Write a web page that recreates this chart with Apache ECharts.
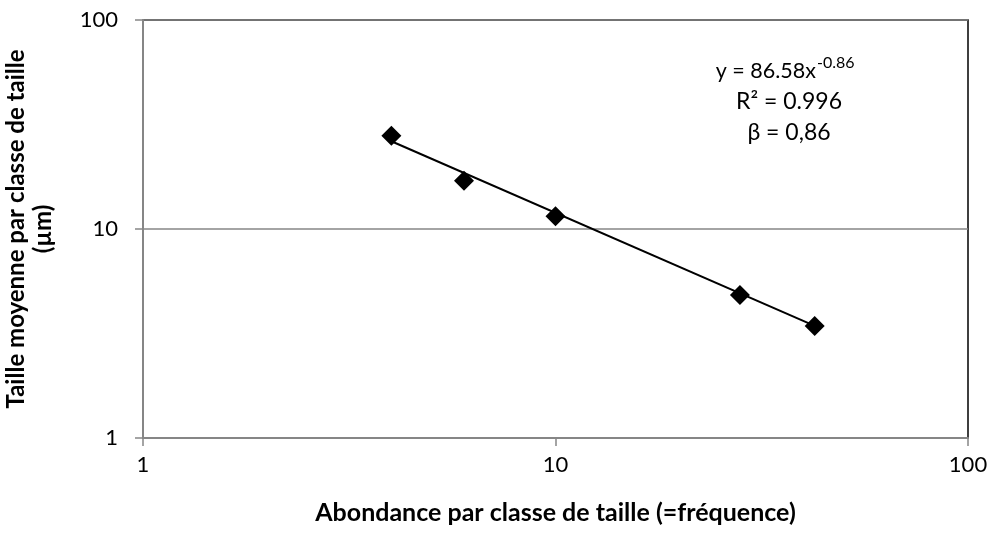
<!DOCTYPE html>
<html><head><meta charset="utf-8">
<script src="https://cdn.jsdelivr.net/npm/echarts@6/dist/echarts.min.js"></script>
<style>html,body{margin:0;padding:0;background:#fff}#c{width:991px;height:539px}</style>
</head><body><div id="c"></div>
<script>
const abondance = [4, 6, 10, 28, 42.5];
const taille = [27.9, 17, 11.5, 4.83, 3.43];
const trendX = [4, 42.5];
const trendY = [26.3, 3.44];
const xTicks = [1, 10, 100];
const yTicks = [1, 10, 100];
const equationLines = ['y = 86.58x', 'R² = 0.996', 'β = 0,86'];
const exponentText = '-0.86';

const font = 'Lato';
const chart = echarts.init(document.getElementById('c'));
chart.setOption({
  animation: false,
  grid: {left: 143, top: 20, width: 825, height: 418, show: true, borderColor: '#000', borderWidth: 1.5, backgroundColor: '#fff',
         containLabel: false, outerBoundsMode: 'none'},
  xAxis: {
    type: 'log', logBase: 10, min: xTicks[0], max: xTicks[xTicks.length-1],
    name: 'Abondance par classe de taille (=fréquence)', nameLocation: 'middle', nameGap: 62,
    nameTextStyle: {fontFamily: font, fontSize: 25, fontWeight: 'bold', color: '#000'},
    axisLine: {lineStyle: {color: '#868686', width: 2}},
    axisTick: {show: true, inside: false, length: 8, lineStyle: {color: '#868686', width: 1.5}},
    axisLabel: {fontFamily: font, fontSize: 22, color: '#000', margin: 16},
    splitLine: {show: false}
  },
  yAxis: {
    type: 'log', logBase: 10, min: yTicks[0], max: yTicks[yTicks.length-1],
    name: 'Taille moyenne par classe de taille\n(µm)', nameLocation: 'middle', nameGap: 86,
    nameTextStyle: {fontFamily: font, fontSize: 24, fontWeight: 'bold', color: '#000', lineHeight: 27},
    axisLine: {lineStyle: {color: '#868686', width: 2}},
    axisTick: {show: true, inside: false, length: 8, lineStyle: {color: '#868686', width: 1.5}},
    axisLabel: {fontFamily: font, fontSize: 22, color: '#000', margin: 25},
    splitLine: {show: true, lineStyle: {color: '#868686', width: 1.5}}
  },
  series: [
    {type: 'line', data: trendX.map((x, i) => [x, trendY[i]]), showSymbol: false, symbol: 'none',
     lineStyle: {color: '#000', width: 2}, z: 2},
    {type: 'scatter', data: abondance.map((x, i) => [x, taille[i]]), symbol: 'diamond', symbolSize: [20, 20],
     itemStyle: {color: '#000', opacity: 1}, z: 3}
  ],
  graphic: [
    {type: 'text', style: {text: equationLines[0], x: 816, y: 71, align: 'right', verticalAlign: 'middle', fontFamily: font, fontSize: 21.5, fill: '#000'}},
    {type: 'text', style: {text: exponentText, x: 817, y: 63, align: 'left', verticalAlign: 'middle', fontFamily: font, fontSize: 16, fill: '#000'}},
    {type: 'text', style: {text: equationLines[1], x: 789, y: 102, align: 'center', verticalAlign: 'middle', fontFamily: font, fontSize: 23, fill: '#000'}},
    {type: 'text', style: {text: equationLines[2], x: 789, y: 133, align: 'center', verticalAlign: 'middle', fontFamily: font, fontSize: 23, fill: '#000'}}
  ]
});
</script></body></html>
